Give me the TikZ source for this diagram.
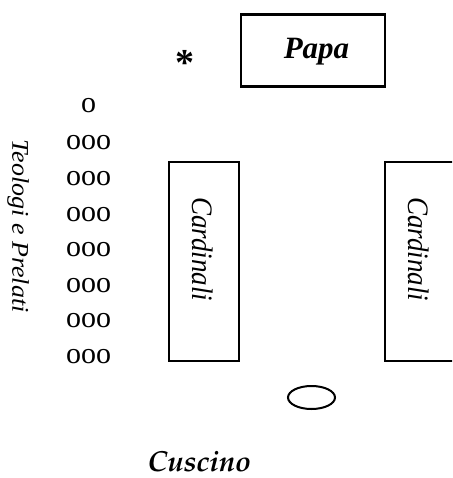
\documentclass[tikz,border=0pt]{standalone}
\usepackage[T1]{fontenc}
\usepackage{fontspec}
\setmainfont{Liberation Serif}
\usepackage{graphicx}
\usetikzlibrary{shapes.geometric}
% Palatino-like bold italic for the cushion caption, when one is installed
\IfFileExists{t1qpl.fd}
  {\newcommand{\cushionfont}{\fontencoding{T1}\fontfamily{qpl}\fontseries{b}\fontshape{it}\selectfont}}
  {\IfFileExists{t1ppl.fd}
    {\newcommand{\cushionfont}{\fontencoding{T1}\fontfamily{ppl}\fontseries{b}\fontshape{it}\selectfont}}
    {\newcommand{\cushionfont}{\bfseries\itshape}}}

\begin{document}
\begin{tikzpicture}[x=1pt,y=-1pt,
  seat/.style={draw, line width=2.4pt, inner sep=0pt, anchor=north west},
  rowmark/.style={inner sep=0pt, font=\fontsize{30}{30}\selectfont},
  vlabel/.style={rotate=-90, inner sep=0pt, anchor=base west,
                 font=\itshape\fontsize{27}{27}\selectfont}]
\useasboundingbox (0,0) rectangle (452,478);
\clip (0,0) rectangle (452,478);

% Pope's seat
\node[seat, minimum width=144pt, minimum height=72pt] (papa) at (239.5,13.5) {};
\node[inner sep=0pt, anchor=base, font=\bfseries\itshape\fontsize{31}{31}\selectfont]
  (papatext) at (316.5,58.5) {Papa};
\node[inner sep=0pt, font=\bfseries\fontsize{38}{38}\selectfont] (star) at (184.5,63) {*};

% Cardinals' benches
\node[seat, minimum width=70pt, minimum height=199pt] (cardl) at (168,161) {};
\node[seat, minimum width=90pt, minimum height=199pt] (cardr) at (384,161) {};
\node[vlabel] (cardltext) at (192.5,197) {\scalebox{1}[1.1]{Cardinali}};
\node[vlabel] (cardrtext) at (408.5,197) {\scalebox{1}[1.1]{Cardinali}};

% Theologians and prelates
\node[rotate=-90, inner sep=0pt, anchor=base west,
      font=\itshape\fontsize{26}{26}\selectfont]
  (teologi) at (12.5,139.5) {\scalebox{1}[0.92]{Teologi e Prelati}};
\node[rowmark] (o0) at (88.5,106) {o};
\foreach \y [count=\i] in {143,179,215,250,285.5,321,357}
  \node[rowmark] (o\i) at (88.5,\y) {ooo};

% Cushion
\node[draw, ellipse, line width=2pt, minimum width=47pt, minimum height=23pt,
      inner sep=0pt] (cuscino) at (311.5,397.5) {};
\node[inner sep=0pt, anchor=base, font=\cushionfont\fontsize{29}{29}\selectfont]
  (cuscinotext) at (199.5,471) {Cuscino};
\end{tikzpicture}
\end{document}
